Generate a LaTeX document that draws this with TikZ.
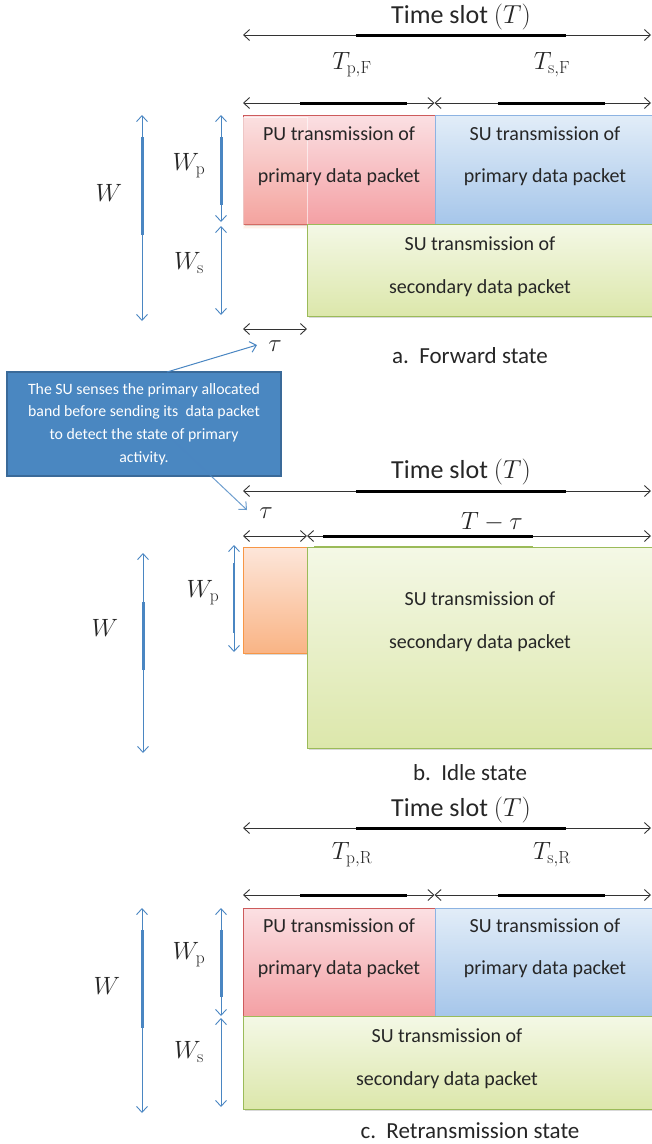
\documentclass[tikz,border=0pt]{standalone}
\usepackage{fix-cm}
\usepackage[no-math]{fontspec}
\setmainfont{Carlito}
\usetikzlibrary{arrows.meta,shadows}

\definecolor{puRedTop}{HTML}{FBE0E3}
\definecolor{puRedBot}{HTML}{F4A0A4}
\definecolor{puRedLine}{HTML}{CD5B5C}
\definecolor{suBlueTop}{HTML}{E2EDF8}
\definecolor{suBlueBot}{HTML}{A6C6EA}
\definecolor{suBlueLine}{HTML}{8DB3E2}
\definecolor{suGreenTop}{HTML}{F4F8E6}
\definecolor{suGreenBot}{HTML}{DCE7AB}
\definecolor{suGreenLine}{HTML}{9BBB59}
\definecolor{senseTop}{HTML}{FDE6DA}
\definecolor{senseBot}{HTML}{F9B485}
\definecolor{senseLine}{HTML}{F79646}
\definecolor{bwBlue}{HTML}{4A86C2}
\definecolor{noteFill}{HTML}{4A87C1}
\definecolor{noteLine}{HTML}{3A6A99}

\tikzset{
  dim/.style={draw=black!80, line width=0.9pt,
    {Straight Barb[length=6pt,width=11pt]}-{Straight Barb[length=6pt,width=11pt]}},
  dimbar/.style={draw=black, line width=3pt},
  bw/.style={draw=bwBlue, line width=0.9pt,
    {Straight Barb[length=6pt,width=11pt]}-{Straight Barb[length=6pt,width=11pt]}},
  bwbar/.style={draw=bwBlue, line width=3pt},
  pointer/.style={draw=bwBlue, line width=1pt, -{Straight Barb[length=6pt,width=11pt]}},
  slot/.style={inner sep=0pt, outer sep=0pt, line width=1pt, anchor=north west},
  shade/.style={drop shadow={shadow xshift=2pt,shadow yshift=-2pt,opacity=.3}},
  pubox/.style={slot, shade, draw=puRedLine, top color=puRedTop, bottom color=puRedBot},
  subox/.style={slot, shade, draw=suBlueLine, top color=suBlueTop, bottom color=suBlueBot},
  secbox/.style={slot, shade, draw=suGreenLine, top color=suGreenTop, bottom color=suGreenBot},
  sensebox/.style={slot, draw=senseLine, top color=senseTop, bottom color=senseBot},
  boxtext/.style={align=center, text=black!85, font=\fontsize{20}{24}\selectfont},
  mathlbl/.style={text=black!85, font=\fontsize{25}{29}\selectfont},
  slottitle/.style={text=black!85, font=\fontsize{26}{30}\selectfont},
  caption/.style={text=black!85, font=\fontsize{23}{27}\selectfont},
  note/.style={fill=noteFill, draw=noteLine, line width=1.5pt, text=white, align=center,
    font=\fontsize{15.8}{22.7}\selectfont, inner sep=0pt,
    minimum width=274pt, minimum height=104pt}
}

\begin{document}
\begin{tikzpicture}[x=1pt,y=-1pt]
\useasboundingbox (0,0) rectangle (652,1144);

% ---- a. forward state
\node[pubox, minimum width=192pt, minimum height=109pt] (puA) at (243,115) {};
\node[subox, minimum width=217pt, minimum height=109pt] (suA) at (435,115) {};
\node[sensebox, fill opacity=.18, draw=white, draw opacity=.6, minimum width=64pt, minimum height=111pt] (senseA) at (243,117) {};
\node[secbox, minimum width=345pt, minimum height=92pt] (secA) at (307,224) {};
\node[boxtext] (puAt) at (339,156) {PU transmission of\\[18pt]primary data packet};
\node[boxtext] (suAt) at (545,156) {SU transmission of\\[18pt]primary data packet};
\node[boxtext] (secAt) at (480,267) {SU transmission of\\[19pt]secondary data packet};

\path (243,35) coordinate (slotAl) (651,35) coordinate (slotAr);
\path (356,35) coordinate (slotAa) (566,35) coordinate (slotAb);
\draw[dim] (slotAl) -- (slotAr);
\draw[dimbar] (slotAa) -- (slotAb);
\node[slottitle] (slotA) at (461,17) {Time slot $(T)$};

\path (243,103) coordinate (rowAl) (434.5,103) coordinate (rowAm) (651,103) coordinate (rowAr);
\draw[dim] (rowAl) -- (rowAm);
\draw[dim] (rowAm) -- (rowAr);
\draw[dimbar] (300,103) coordinate (rowAa) -- (407,103) coordinate (rowAb);
\draw[dimbar] (498,103) coordinate (rowAc) -- (605,103) coordinate (rowAd);
\node[mathlbl] (tpF) at (352,65) {$T_{\mathrm{p,F}}$};
\node[mathlbl] (tsF) at (552,65) {$T_{\mathrm{s,F}}$};

\path (243,329) coordinate (tauAl) (307,329) coordinate (tauAr);
\draw[dim] (tauAl) -- (tauAr);
\node[mathlbl] (tauA) at (275,346) {$\tau$};

\path (142,115) coordinate (wAt) (142,321) coordinate (wAb);
\draw[bw] (wAt) -- (wAb);
\draw[bwbar] (142,137) coordinate (wAa) -- (142,235) coordinate (wAc);
\path (221,115) coordinate (wpAt) (221,222) coordinate (wpAb);
\draw[bw] (wpAt) -- (wpAb);
\draw[bwbar] (221,137) coordinate (wpAa) -- (221,205) coordinate (wpAc);
\path (221,226) coordinate (wsAt) (221,315) coordinate (wsAb);
\draw[bw] (wsAt) -- (wsAb);
\node[mathlbl] (WA) at (109,193) {$W$};
\node[mathlbl] (WpA) at (189,166) {$W_{\mathrm{p}}$};
\node[mathlbl] (WsA) at (189,263) {$W_{\mathrm{s}}$};
\node[caption] (capA) at (470,356) {a.\ \ Forward state};

% ---- note on sensing
\node[note] (sensing) at (144,424) {The SU senses the primary allocated\\
band before sending its\ \ data packet\\to detect the state of primary\\activity.};
\path (167,372) coordinate (noteA) (257,345) coordinate (noteAend);
\path (173,440) coordinate (noteB) (247,510) coordinate (noteBend);
\draw[pointer] (noteA) -- (noteAend);
\draw[pointer, draw opacity=.8] (noteB) -- (noteBend);

% ---- b. idle state
\node[sensebox, shade, minimum width=64pt, minimum height=106pt] (senseB) at (243,547) {};
\node[secbox, minimum width=345pt, minimum height=201pt] (secB) at (307,547) {};
\node[boxtext] (secBt) at (480,622) {SU transmission of\\[19pt]secondary data packet};

\path (243,491) coordinate (slotBl) (651,491) coordinate (slotBr);
\draw[dim] (slotBl) -- (slotBr);
\draw[dimbar] (356,491) coordinate (slotBa) -- (566,491) coordinate (slotBb);
\node[slottitle] (slotB) at (461,472) {Time slot $(T)$};

\path (243,536) coordinate (rowBl) (307,536) coordinate (rowBm) (651,536) coordinate (rowBr);
\draw[dim] (rowBl) -- (rowBm);
\draw[dim] (rowBm) -- (rowBr);
\draw[dimbar] (323,536) coordinate (rowBa) -- (533,536) coordinate (rowBb);
\draw[draw=suGreenLine, line width=2.5pt] (314,547) coordinate (edgeBa) -- (533,547) coordinate (edgeBb);
\node[mathlbl] (tauB) at (266,513) {$\tau$};
\node[mathlbl] (restB) at (492,522) {$T-\tau$};

\path (143,553) coordinate (wBt) (143,753) coordinate (wBb);
\draw[bw] (wBt) -- (wBb);
\draw[bwbar] (143,602) coordinate (wBa) -- (143,670) coordinate (wBc);
\path (234,545) coordinate (wpBt) (234,652) coordinate (wpBb);
\draw[bw] (wpBt) -- (wpBb);
\draw[bwbar, line width=2pt] (234,563) coordinate (wpBa) -- (234,633) coordinate (wpBc);
\node[mathlbl] (WB) at (105,628) {$W$};
\node[mathlbl] (WpB) at (203,593) {$W_{\mathrm{p}}$};
\node[caption] (capB) at (470,773) {b.\ \ Idle state};

% ---- c. retransmission state
\node[pubox, minimum width=192pt, minimum height=108pt] (puC) at (243,908) {};
\node[subox, minimum width=217pt, minimum height=108pt] (suC) at (435,908) {};
\node[secbox, minimum width=409pt, minimum height=93pt] (secC) at (243,1016) {};
\node[boxtext] (puCt) at (339,948) {PU transmission of\\[18pt]primary data packet};
\node[boxtext] (suCt) at (545,948) {SU transmission of\\[18pt]primary data packet};
\node[boxtext] (secCt) at (447,1059) {SU transmission of\\[19pt]secondary data packet};

\path (243,828) coordinate (slotCl) (651,828) coordinate (slotCr);
\draw[dim] (slotCl) -- (slotCr);
\draw[dimbar] (356,828) coordinate (slotCa) -- (566,828) coordinate (slotCb);
\node[slottitle] (slotC) at (461,810) {Time slot $(T)$};

\path (243,895) coordinate (rowCl) (434.5,895) coordinate (rowCm) (651,895) coordinate (rowCr);
\draw[dim] (rowCl) -- (rowCm);
\draw[dim] (rowCm) -- (rowCr);
\draw[dimbar] (300,895) coordinate (rowCa) -- (407,895) coordinate (rowCb);
\draw[dimbar] (498,895) coordinate (rowCc) -- (605,895) coordinate (rowCd);
\node[mathlbl] (tpR) at (352,855) {$T_{\mathrm{p,R}}$};
\node[mathlbl] (tsR) at (552,855) {$T_{\mathrm{s,R}}$};

\path (142,908) coordinate (wCt) (142,1113) coordinate (wCb);
\draw[bw] (wCt) -- (wCb);
\draw[bwbar] (142,930) coordinate (wCa) -- (142,1028) coordinate (wCc);
\path (221,908) coordinate (wpCt) (221,1016) coordinate (wpCb);
\draw[bw] (wpCt) -- (wpCb);
\draw[bwbar] (221,930) coordinate (wpCa) -- (221,997) coordinate (wpCc);
\path (221,1018) coordinate (wsCt) (221,1107) coordinate (wsCb);
\draw[bw] (wsCt) -- (wsCb);
\node[mathlbl] (WC) at (107,986) {$W$};
\node[mathlbl] (WpC) at (189,955) {$W_{\mathrm{p}}$};
\node[mathlbl] (WsC) at (189,1052) {$W_{\mathrm{s}}$};
\node[caption] (capC) at (470,1131) {c.\ \ Retransmission state};
\end{tikzpicture}
\end{document}
